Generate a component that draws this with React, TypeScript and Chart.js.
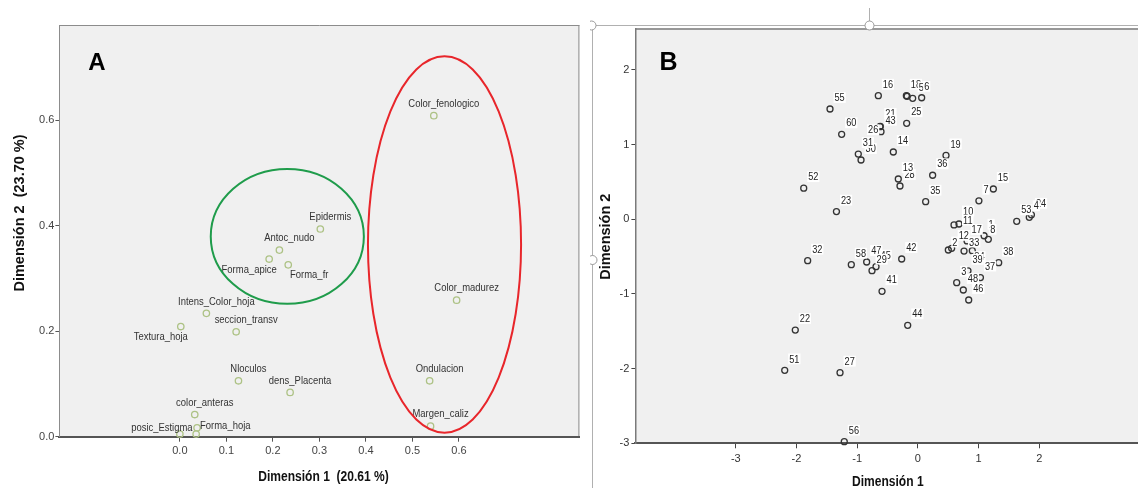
import React, { useEffect, useRef } from "react";
import { Chart, registerables } from "chart.js";
Chart.register(...registerables);

// ---------- Panel A data (variables) ----------
const varNames = ["Color_fenologico", "Epidermis", "Antoc_nudo", "Forma_apice", "Forma_fr", "Color_madurez", "Intens_Color_hoja", "Textura_hoja", "seccion_transv", "Nloculos", "dens_Placenta", "Ondulacion", "color_anteras", "Forma_hoja", "", "posic_Estigma", "Margen_caliz"];
const dim1A = [0.546, 0.302, 0.214, 0.192, 0.233, 0.595, 0.057, 0.002, 0.121, 0.126, 0.237, 0.537, 0.032, 0.037, 0.035, 0.0, 0.539];
const dim2A = [0.609, 0.394, 0.354, 0.337, 0.326, 0.259, 0.234, 0.209, 0.199, 0.106, 0.084, 0.106, 0.042, 0.017, 0.005, 0.005, 0.020];
const ticksAx = [0, 0.1, 0.2, 0.3, 0.4, 0.5, 0.6];
const ticksAy = [0, 0.2, 0.4, 0.6];
const ellipseCx = [0.231, 0.569];
const ellipseCy = [0.38, 0.3646];
const ellipseRx = [0.1646, 0.1646];
const ellipseRy = [0.128, 0.357];

// ---------- Panel B data (cases) ----------
const caseIds = ["16", "18", "", "5", "6", "55", "25", "26", "21", "43", "60", "30", "31", "14", "19", "36", "28", "13", "52", "15", "35", "7", "23", "53", "24", "4", "10", "11", "12", "2", "17", "1", "8", "34", "33", "39", "37", "3", "48", "46", "38", "42", "32", "58", "47", "45", "29", "41", "44", "22", "51", "27", "56"];
const dim1B = [-0.652, -0.19, -0.178, -0.086, 0.062, -1.448, -0.185, -0.624, -0.62, -0.608, -1.256, -0.937, -0.982, -0.405, 0.463, 0.243, -0.295, -0.323, -1.881, 1.243, 0.128, 1.005, -1.342, 1.628, 1.87, 1.835, 0.595, 0.677, 0.556, 0.501, 0.81, 1.09, 1.16, 0.896, 0.76, 0.825, 1.03, 0.639, 0.748, 0.837, 1.331, -0.267, -1.816, -1.097, -0.844, -0.69, -0.756, -0.591, -0.168, -2.02, -2.194, -1.283, -1.213];
const dim2B = [1.655, 1.655, 1.648, 1.62, 1.628, 1.477, 1.286, 1.24, 1.245, 1.173, 1.138, 0.794, 0.874, 0.901, 0.855, 0.59, 0.446, 0.54, 0.417, 0.406, 0.236, 0.248, 0.103, -0.027, 0.06, 0.027, -0.076, -0.063, -0.389, -0.411, -0.29, -0.22, -0.268, -0.42, -0.425, -0.69, -0.78, -0.849, -0.947, -1.081, -0.581, -0.532, -0.554, -0.608, -0.572, -0.635, -0.688, -0.964, -1.42, -1.483, -2.023, -2.054, -2.978];
const ticksBx = [-3, -2, -1, 0, 1, 2];
const ticksBy = [-3, -2, -1, 0, 1, 2];

// ---------- label placement (layout only) ----------
const placeA: Record<string, [number, number, CanvasTextAlign]> = {
  Forma_apice: [-20, 11, "center"],
  Forma_fr: [21, 10, "center"],
  Textura_hoja: [-20, 11, "center"],
  Forma_hoja: [3, -1.5, "left"],
  posic_Estigma: [-18, -6, "center"],
};
const placeB: Record<string, [number, number]> = {
  "5": [5, -11.5],
  "6": [1.5, -11.5],
  "26": [-13, 3],
  "21": [4, -13],
  "10": [8, -14],
  "11": [3, -4],
  "12": [6, -13],
  "2": [3, -8],
  "8": [1, -10],
  "33": [4, -9],
  "34": [1, 6],
};

const FONT = "'Liberation Sans', Arial, sans-serif";

function squeezedText(ctx: CanvasRenderingContext2D, text: string, x: number, y: number, align: CanvasTextAlign, sx: number) {
  ctx.save();
  ctx.translate(x, y);
  ctx.scale(sx, 1);
  ctx.textAlign = align;
  ctx.textBaseline = "middle";
  ctx.fillText(text, 0, 0);
  ctx.restore();
}

function rotatedText(ctx: CanvasRenderingContext2D, text: string, x: number, y: number) {
  ctx.save();
  ctx.translate(x, y);
  ctx.rotate(-Math.PI / 2);
  ctx.textAlign = "center";
  ctx.textBaseline = "middle";
  ctx.fillText(text, 0, 0);
  ctx.restore();
}

const pluginA = {
  id: "panelA",
  beforeDraw(chart: any) {
    const { ctx, chartArea: a } = chart;
    ctx.save();
    ctx.fillStyle = "#f0f0f0";
    ctx.fillRect(a.left, a.top, a.right - a.left, a.bottom - a.top);
    ctx.strokeStyle = "#8c8c8c";
    ctx.lineWidth = 1;
    ctx.beginPath();
    ctx.moveTo(a.left, a.top + 0.5);
    ctx.lineTo(a.right, a.top + 0.5);
    ctx.moveTo(a.right - 0.5, a.top);
    ctx.lineTo(a.right - 0.5, a.bottom);
    ctx.stroke();
    ctx.restore();
  },
  afterDatasetsDraw(chart: any) {
    const { ctx } = chart;
    const meta = chart.getDatasetMeta(0);
    ctx.save();
    ctx.fillStyle = "#333";
    ctx.font = `10.5px ${FONT}`;
    meta.data.forEach((pt: any, i: number) => {
      const name = varNames[i];
      if (!name) return;
      const p = placeA[name] || [10, -11.7, "center"];
      squeezedText(ctx, name, pt.x + p[0], pt.y + p[1], p[2], 0.9);
    });
    const xs = chart.scales.x, ys = chart.scales.y;
    const colors = ["#1f9c4b", "#e8262b"];
    ellipseCx.forEach((cx, i) => {
      const px = xs.getPixelForValue(cx);
      const py = ys.getPixelForValue(ellipseCy[i]);
      const rx = Math.abs(xs.getPixelForValue(cx + ellipseRx[i]) - px);
      const ry = Math.abs(ys.getPixelForValue(ellipseCy[i] + ellipseRy[i]) - py);
      ctx.beginPath();
      ctx.ellipse(px, py, rx, ry, 0, 0, Math.PI * 2);
      ctx.strokeStyle = colors[i];
      ctx.lineWidth = 2;
      ctx.stroke();
    });
    ctx.restore();
  },
  afterDraw(chart: any) {
    const { ctx } = chart;
    ctx.save();
    ctx.fillStyle = "#111";
    ctx.font = `bold 14px ${FONT}`;
    squeezedText(ctx, "Dimensión 1  (20.61 %)", 323.5, 477.3, "center", 0.86);
    ctx.font = `bold 14.5px ${FONT}`;
    rotatedText(ctx, "Dimensión 2  (23.70 %)", 19.6, 213);
    ctx.fillStyle = "#000";
    ctx.font = `bold 24px ${FONT}`;
    ctx.textAlign = "center";
    ctx.textBaseline = "middle";
    ctx.fillText("A", 97, 63);
    ctx.restore();
  },
};

const pluginB = {
  id: "panelB",
  beforeDraw(chart: any) {
    const { ctx, chartArea: a } = chart;
    ctx.save();
    ctx.fillStyle = "#f0f0f0";
    ctx.fillRect(a.left, a.top, a.right - a.left, a.bottom - a.top);
    ctx.strokeStyle = "#7a7a7a";
    ctx.lineWidth = 1.5;
    ctx.beginPath();
    ctx.moveTo(a.left, a.top + 0.75);
    ctx.lineTo(a.right, a.top + 0.75);
    ctx.stroke();
    ctx.strokeStyle = "#b0b0b0";
    ctx.lineWidth = 1;
    ctx.beginPath();
    ctx.moveTo(0, 25.5);
    ctx.lineTo(548, 25.5);
    ctx.moveTo(2.5, 25);
    ctx.lineTo(2.5, 488);
    ctx.moveTo(279.5, 8);
    ctx.lineTo(279.5, 21);
    ctx.stroke();
    ctx.restore();
  },
  afterDatasetsDraw(chart: any) {
    const { ctx } = chart;
    const meta = chart.getDatasetMeta(0);
    ctx.save();
    ctx.font = `11.5px ${FONT}`;
    const sx = 0.8;
    meta.data.forEach((pt: any, i: number) => {
      const id = caseIds[i];
      if (!id) return;
      const p = placeB[id] || [3.5, -11.5];
      const w = ctx.measureText(id).width * sx;
      const left = pt.x + p[0];
      const cy = pt.y + p[1];
      ctx.fillStyle = "#ffffff";
      ctx.fillRect(left, cy - 5.4, w + 2, 10.8);
      ctx.fillStyle = "#222";
      squeezedText(ctx, id, left + 1, cy + 0.5, "left", sx);
    });
    ctx.restore();
  },
  afterDraw(chart: any) {
    const { ctx } = chart;
    ctx.save();
    ctx.fillStyle = "#111";
    ctx.font = `bold 14.5px ${FONT}`;
    squeezedText(ctx, "Dimensión 1", 297.8, 481.7, "center", 0.83);
    rotatedText(ctx, "Dimensión 2", 15.7, 236.7);
    ctx.fillStyle = "#000";
    ctx.font = `bold 25px ${FONT}`;
    ctx.textAlign = "center";
    ctx.textBaseline = "middle";
    ctx.fillText("B", 78.6, 63.5);
    ctx.strokeStyle = "#999";
    ctx.fillStyle = "#fff";
    ctx.lineWidth = 1;
    [[1.5, 25.5], [279.5, 25.5], [2.5, 260]].forEach(([x, y]) => {
      ctx.beginPath();
      ctx.arc(x, y, 4.5, 0, Math.PI * 2);
      ctx.fill();
      ctx.stroke();
    });
    ctx.restore();
  },
};

function makeA(canvas: HTMLCanvasElement) {
  return new Chart(canvas, {
    type: "scatter",
    data: {
      datasets: [
        {
          data: dim1A.map((x, i) => ({ x, y: dim2A[i] })),
          pointStyle: "circle",
          pointRadius: 3.2,
          pointBorderWidth: 1.3,
          pointBorderColor: "#adc285",
          pointBackgroundColor: "rgba(0,0,0,0)",
          clip: false as any,
        },
      ],
    },
    options: {
      responsive: false,
      animation: false,
      events: [],
      layout: { autoPadding: false, padding: { left: 0, top: 25, right: 10.6, bottom: 0 } },
      plugins: { legend: { display: false }, tooltip: { enabled: false } },
      scales: {
        x: {
          type: "linear",
          min: -0.259,
          max: 0.859,
          afterBuildTicks: (s: any) => { s.ticks = ticksAx.map((v) => ({ value: v })); },
          afterFit: (s: any) => { s.height = 51.3; },
          ticks: { callback: (v: any) => Number(v).toFixed(1), color: "#444", font: { family: FONT, size: 11 }, padding: 3, autoSkip: false, maxRotation: 0 },
          grid: { drawOnChartArea: false, drawTicks: true, tickLength: 5, color: "#555" },
          border: { display: true, color: "#555", width: 2 },
        },
        y: {
          type: "linear",
          min: 0,
          max: 0.781,
          afterBuildTicks: (s: any) => { s.ticks = ticksAy.map((v) => ({ value: v })); },
          afterFit: (s: any) => { s.width = 59.4; },
          ticks: { callback: (v: any) => Number(v).toFixed(1), color: "#444", font: { family: FONT, size: 11 }, padding: 1, autoSkip: false },
          grid: { drawOnChartArea: false, drawTicks: true, tickLength: 4, color: "#555" },
          border: { display: true, color: "#8c8c8c", width: 1 },
        },
      },
    },
    plugins: [pluginA],
  } as any);
}

function makeB(canvas: HTMLCanvasElement) {
  return new Chart(canvas, {
    type: "scatter",
    data: {
      datasets: [
        {
          data: dim1B.map((x, i) => ({ x, y: dim2B[i] })),
          pointStyle: "circle",
          pointRadius: 3,
          pointBorderWidth: 1.3,
          pointBorderColor: "#333",
          pointBackgroundColor: "rgba(0,0,0,0)",
          clip: false as any,
        },
      ],
    },
    options: {
      responsive: false,
      animation: false,
      events: [],
      layout: { autoPadding: false, padding: { left: 0, top: 28.3, right: 0, bottom: 0 } },
      plugins: { legend: { display: false }, tooltip: { enabled: false } },
      scales: {
        x: {
          type: "linear",
          min: -4.654,
          max: 3.626,
          afterBuildTicks: (s: any) => { s.ticks = ticksBx.map((v) => ({ value: v })); },
          afterFit: (s: any) => { s.height = 44.7; },
          ticks: { callback: (v: any) => String(v), color: "#333", font: { family: FONT, size: 11 }, padding: 4, autoSkip: false, maxRotation: 0 },
          grid: { drawOnChartArea: false, drawTicks: true, tickLength: 5, color: "#444" },
          border: { display: true, color: "#555", width: 2 },
        },
        y: {
          type: "linear",
          min: -3,
          max: 2.558,
          afterBuildTicks: (s: any) => { s.ticks = ticksBy.map((v) => ({ value: v })); },
          afterFit: (s: any) => { s.width = 45.4; },
          ticks: { callback: (v: any) => String(v), color: "#333", font: { family: FONT, size: 11 }, padding: 2, autoSkip: false },
          grid: { drawOnChartArea: false, drawTicks: true, tickLength: 4, color: "#444" },
          border: { display: true, color: "#7a7a7a", width: 1.5 },
        },
      },
    },
    plugins: [pluginB],
  } as any);
}

export default function App() {
  const refA = useRef<HTMLCanvasElement>(null);
  const refB = useRef<HTMLCanvasElement>(null);
  useEffect(() => {
    const a = makeA(refA.current!);
    const b = makeB(refB.current!);
    return () => {
      a.destroy();
      b.destroy();
    };
  }, []);
  return (
    <div style={{ position: "absolute", left: 0, top: 0, width: 1138, height: 488, background: "#fff", overflow: "hidden" }}>
      <canvas ref={refA} width={590} height={488} style={{ position: "absolute", left: 0, top: 0, width: 590, height: 488 }} />
      <canvas ref={refB} width={548} height={488} style={{ position: "absolute", left: 590, top: 0, width: 548, height: 488 }} />
    </div>
  );
}
